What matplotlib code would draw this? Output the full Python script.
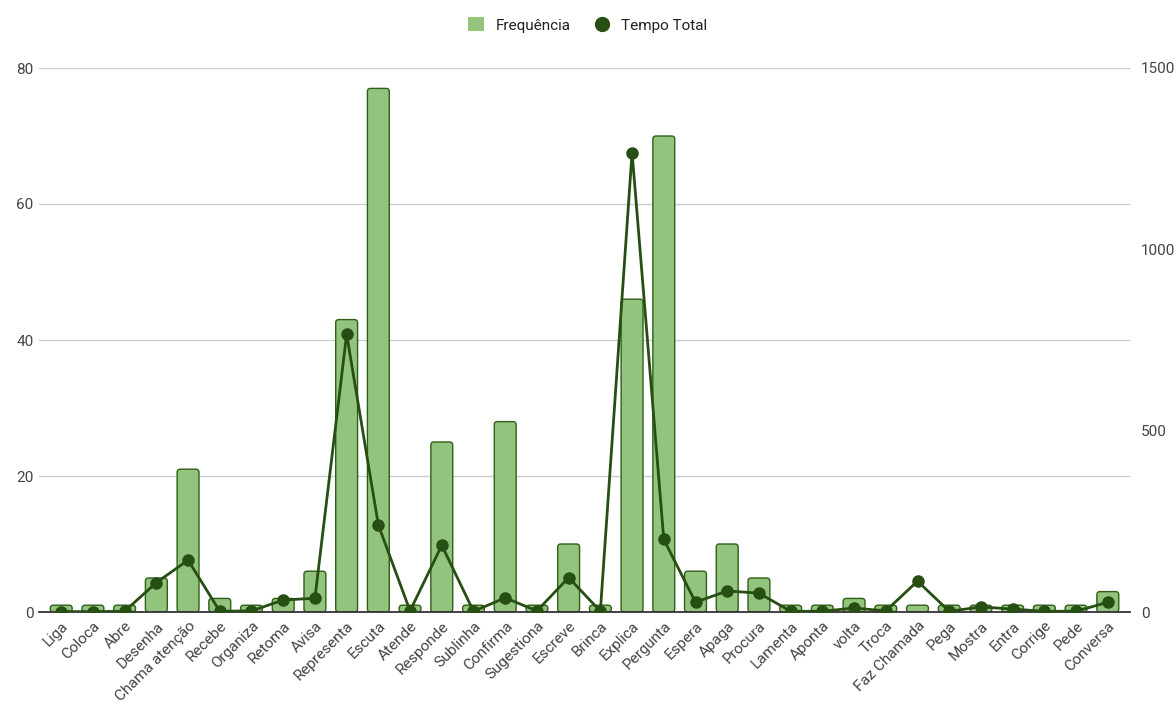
import numpy as np
import matplotlib.pyplot as plt
from matplotlib.patches import FancyBboxPatch
from matplotlib.lines import Line2D
from matplotlib.patches import Patch

plt.rcParams['font.family'] = ['Roboto', 'DejaVu Sans']

acoes = ['Liga', 'Coloca', 'Abre', 'Desenha', 'Chama atenção', 'Recebe', 'Organiza',
         'Retoma', 'Avisa', 'Representa', 'Escuta', 'Atende', 'Responde', 'Sublinha',
         'Confirma', 'Sugestiona', 'Escreve', 'Brinca', 'Explica', 'Pergunta', 'Espera',
         'Apaga', 'Procura', 'Lamenta', 'Aponta', 'volta', 'Troca', 'Faz Chamada',
         'Pega', 'Mostra', 'Entra', 'Corrige', 'Pede', 'Conversa']
frequencia = [1, 1, 1, 5, 21, 2, 1, 2, 6, 43, 77, 1, 25, 1, 28, 1, 10, 1, 46, 70, 6,
              10, 5, 1, 1, 2, 1, 1, 1, 1, 1, 1, 1, 3]
tempo_total = [1, 1, 2, 81, 143, 2, 3, 33, 38, 766, 240, 3, 184, 2, 39, 3, 95, 2, 1267,
               200, 27, 58, 52, 2, 2, 11, 3, 85, 2, 14, 8, 2, 2, 27]

verde_claro = '#93c47d'
verde_escuro = '#274e13'
borda_barra = '#2f5f18'
cinza_texto = '#444444'

fig = plt.figure(figsize=(11.76, 7.10), dpi=100)
ax1 = fig.add_axes([39 / 1176, 1 - 612 / 710, (1130 - 39) / 1176, (612 - 68) / 710])
ax2 = ax1.twinx()

x = np.arange(len(acoes))
largura = 0.69

# barras com cantos arredondados
barras = ax1.bar(x, frequencia, width=largura, color=verde_claro, edgecolor=borda_barra)
aspecto = (1 / 6.8) / (1 / 31.7)
for b in barras:
    b.set_visible(False)
    p = FancyBboxPatch((b.get_x(), 0), b.get_width(), b.get_height(),
                       boxstyle="round,pad=0,rounding_size=0.1",
                       mutation_aspect=aspecto, facecolor=verde_claro,
                       edgecolor=borda_barra, linewidth=1.0, zorder=2)
    ax1.add_patch(p)

ax2.plot(x, tempo_total, color=verde_escuro, linewidth=2, marker='o',
         markersize=8, zorder=3)

ax1.set_xlim(-0.7, len(acoes) - 0.3)
ax1.set_ylim(0, 80)
ax2.set_ylim(0, 1500)
ax1.set_yticks([0, 20, 40, 60, 80])
ax2.set_yticks([0, 500, 1000, 1500])

ax1.grid(axis='y', color='#cccccc', linewidth=1)
ax1.set_axisbelow(True)
for lado in ['top', 'right', 'left']:
    ax1.spines[lado].set_visible(False)
    ax2.spines[lado].set_visible(False)
ax2.spines['bottom'].set_visible(False)
ax1.spines['bottom'].set_color('#333333')
ax1.spines['bottom'].set_linewidth(1.3)

ax1.set_xticks(x)
ax1.set_xticklabels(acoes, rotation=45, ha='right', rotation_mode='anchor',
                    fontsize=11, color=cinza_texto)
ax1.tick_params(axis='x', length=0, pad=5)
ax1.tick_params(axis='y', length=0, labelsize=11, labelcolor=cinza_texto, pad=4)
ax2.tick_params(axis='y', length=0, labelsize=11, labelcolor=cinza_texto, pad=8)

legenda = [Patch(facecolor=verde_claro, edgecolor='none', label='Frequência'),
           Line2D([0], [0], marker='o', color='none', markerfacecolor=verde_escuro,
                  markeredgecolor=verde_escuro, markersize=10, label='Tempo Total')]
fig.legend(handles=legenda, loc='center', bbox_to_anchor=(0.5, 1 - 25 / 710), ncol=2,
           frameon=False, fontsize=11, handlelength=1.0, handleheight=1.0,
           columnspacing=1.5, handletextpad=0.8, labelcolor='#222222')

plt.savefig('out.png', dpi=100)
